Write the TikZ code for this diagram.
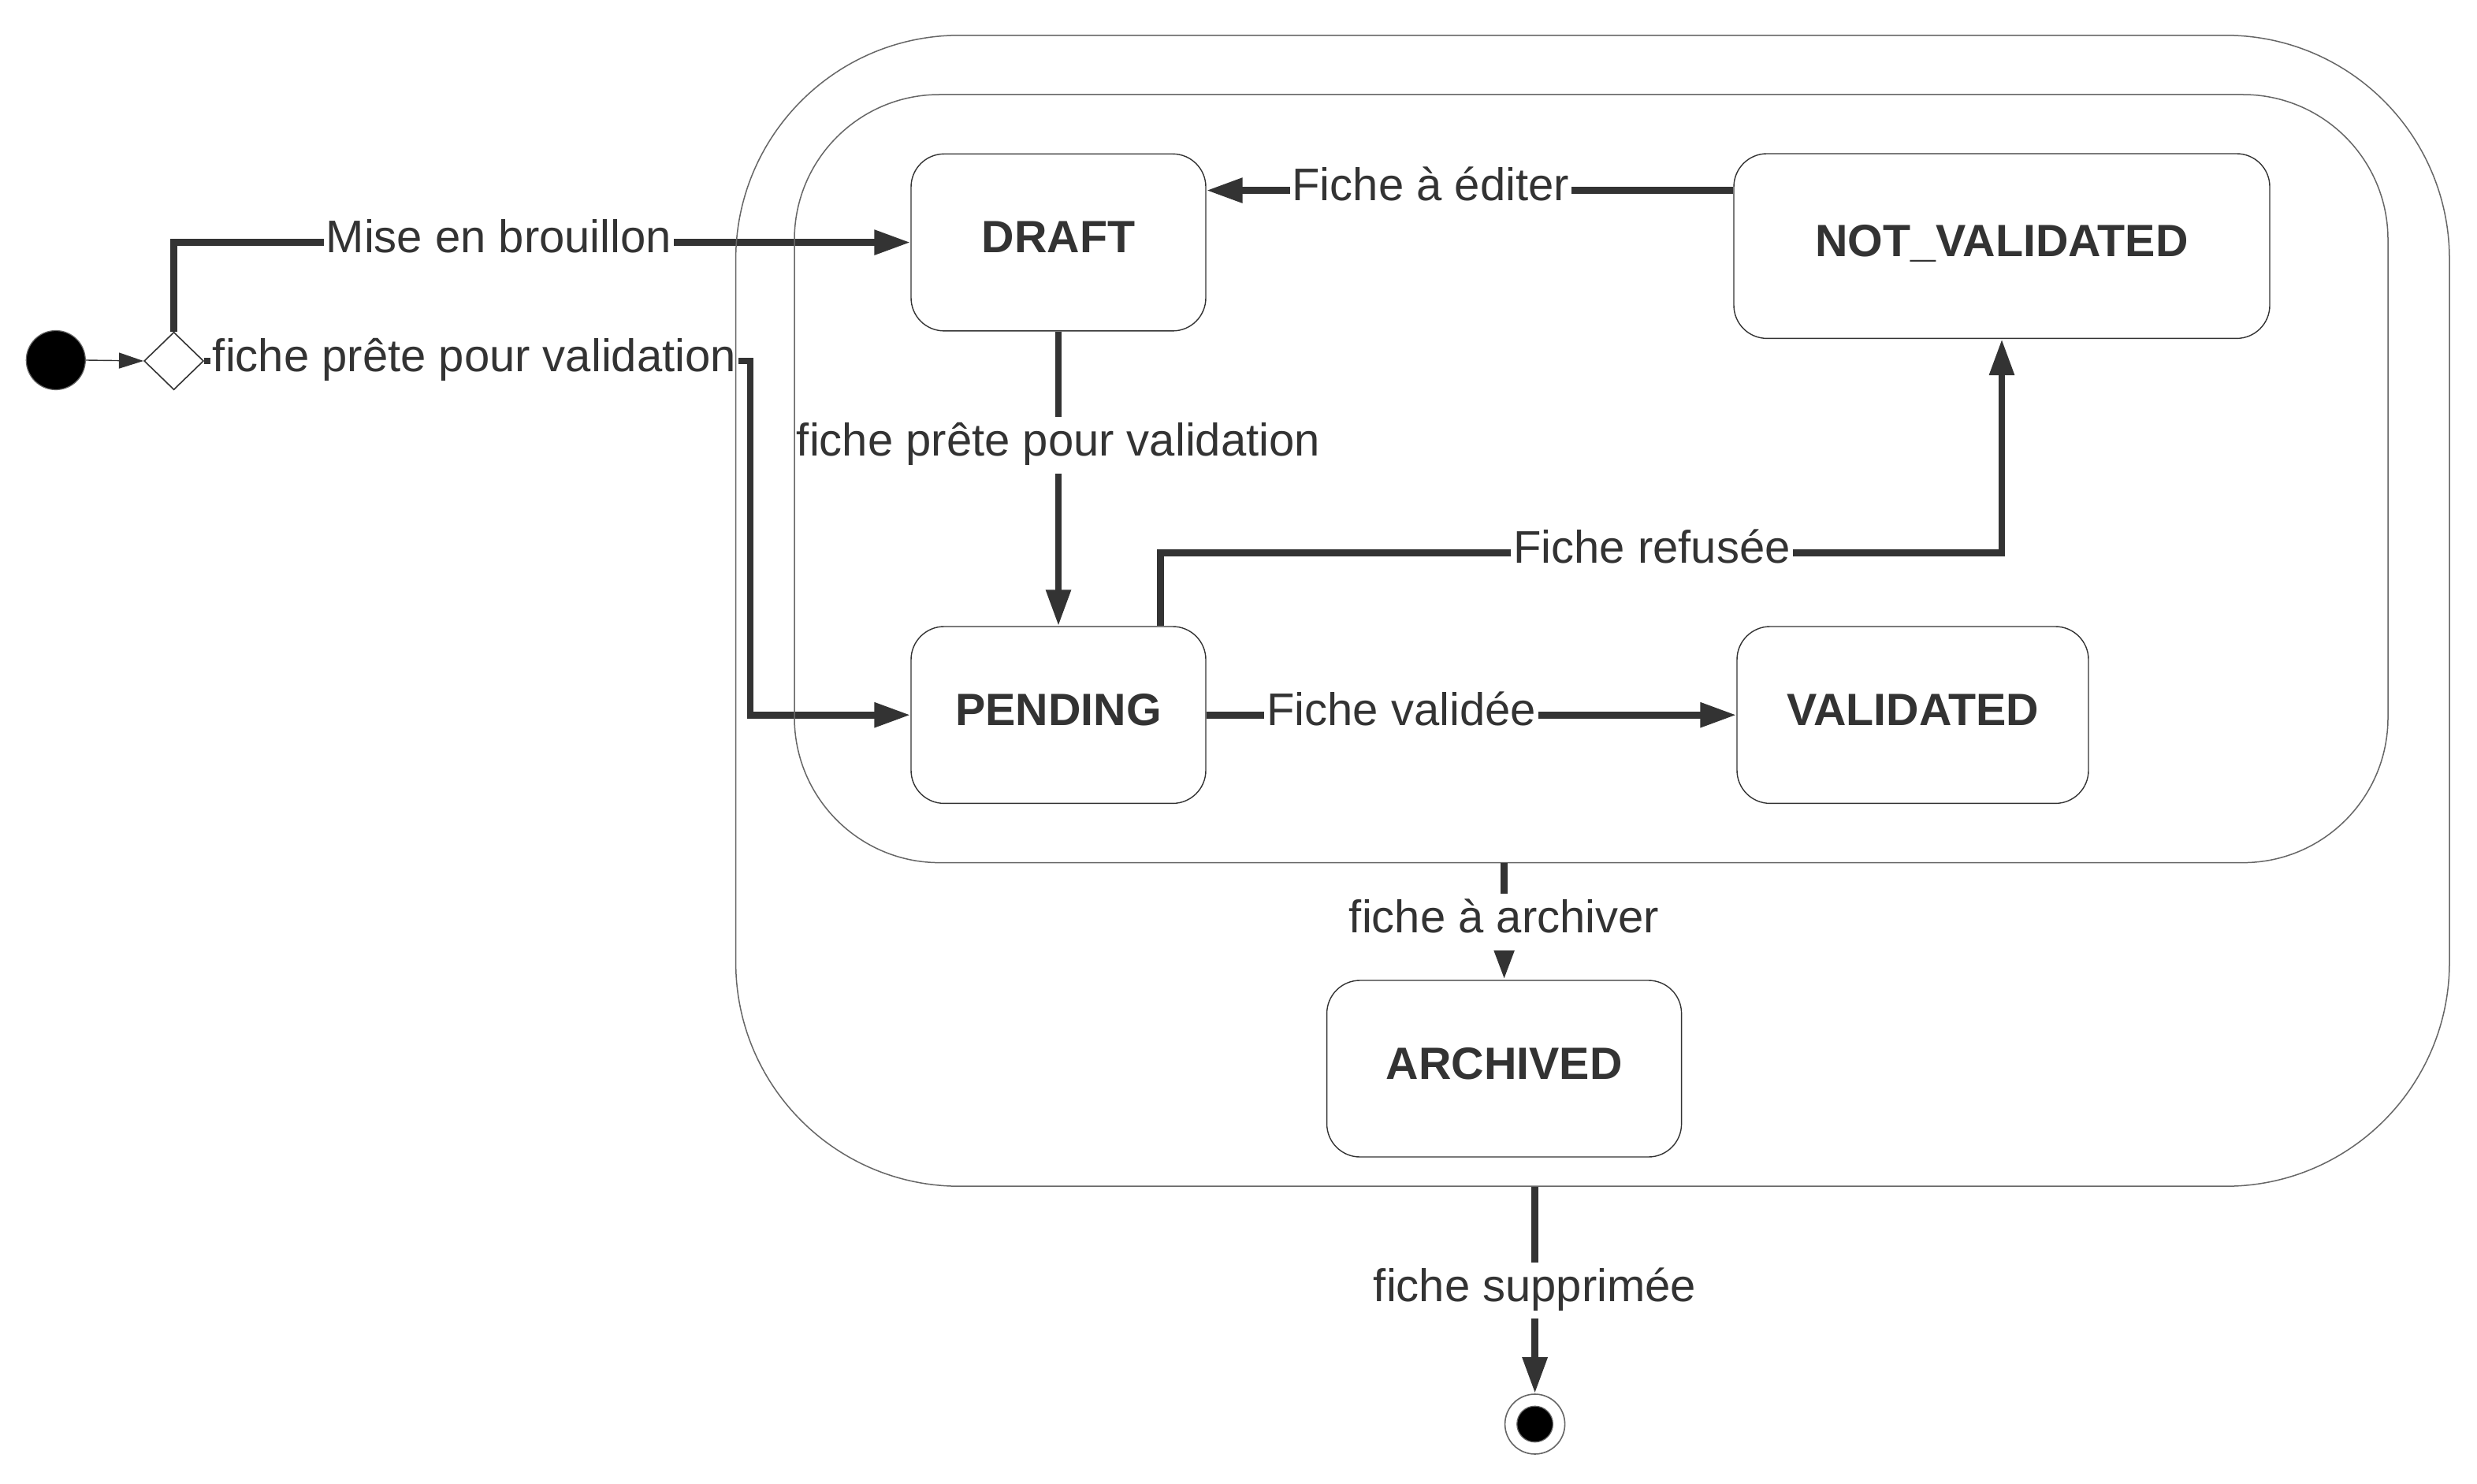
\documentclass[tikz,border=0pt]{standalone}
\usepackage{fontspec}
\setmainfont{Liberation Sans}
\usetikzlibrary{arrows.meta,shapes.geometric}
\definecolor{ink}{HTML}{333333}
\definecolor{frame}{HTML}{666666}
\begin{document}
\begin{tikzpicture}[x=1pt,y=-1pt,
  stbox/.style={draw=ink,line width=0.7pt,rounded corners=21pt,fill=white,text=ink,inner sep=0pt,
    font=\fontsize{28.7}{34}\selectfont\bfseries,text height=20.5pt,text depth=7.3pt},
  contbox/.style={draw=frame,line width=0.75pt,inner sep=0pt},
  conn/.style={draw=ink,line width=4.4pt,-{Triangle[length=23pt,width=15pt]}},
  lbl/.style={fill=white,text=ink,inner xsep=1.5pt,inner ysep=3.8pt,
    font=\fontsize{29}{34}\selectfont,text height=20.8pt,text depth=7.4pt},
]
\fill[white] (0,0) rectangle (1571.5,941.5);
\useasboundingbox (0,0) rectangle (1571.5,941.5);

% states
\node[stbox,minimum width=187pt,minimum height=112.3pt] (DRAFT) at (671.5,153.8) {DRAFT};
\node[stbox,minimum width=187pt,minimum height=112.2pt] (PENDING) at (671.5,453.6) {PENDING};
\node[stbox,minimum width=340pt,minimum height=117.2pt] (NOT) at (1270,156.1) {NOT\_VALIDATED};
\node[stbox,minimum width=223pt,minimum height=112.2pt] (VALIDATED) at (1213.5,453.6) {VALIDATED};
\node[stbox,minimum width=225pt,minimum height=112pt] (ARCHIVED) at (954.3,678) {ARCHIVED};

% pseudo states
\node[circle,fill=black,draw=frame,line width=0.6pt,minimum size=37.5pt,inner sep=0pt] (init) at (35.4,228.5) {};
\node[diamond,draw=ink,line width=0.8pt,fill=white,minimum width=37.8pt,minimum height=36.6pt,inner sep=0pt] (dia) at (110.3,229) {};
\node[circle,draw=frame,line width=0.8pt,fill=white,minimum size=38pt,inner sep=0pt] (final) at (973.8,903.5) {};
\node[circle,fill=black,draw=frame,line width=0.6pt,minimum size=22.8pt,inner sep=0pt] (finalin) at (final.center) {};

% connectors
\draw[draw=ink,line width=0.7pt,-{Triangle[length=15.5pt,width=10pt]}] (init.east) -- (dia.west);

\draw[conn] (dia.north) |- (DRAFT.west);
\node[lbl] (l1) at (316.5,153.8) {Mise en brouillon};

\coordinate (vp) at (476,229);
\draw[conn] (dia.east) -- (dia.east -| vp) |- (PENDING.west);
\node[lbl] (l2) at (301,229) {fiche prête pour validation};

\coordinate (ed) at (0,120.8);
\draw[conn] (NOT.west |- ed) -- (DRAFT.east |- ed);
\node[lbl] (l3) at (907.6,120.8) {Fiche à éditer};

\draw[conn] (DRAFT.south) -- (PENDING.north);
\node[lbl] (l4) at (671.5,282.6) {fiche prête pour validation};

\coordinate (rf) at (736.4,350.6);
\draw[conn] (PENDING.north -| rf) |- (NOT.south |- rf) -- (NOT.south);
\node[lbl] (l5) at (1048,350.6) {Fiche refusée};

\draw[conn] (PENDING.east) -- (VALIDATED.west);
\node[lbl] (l6) at (889,453.6) {Fiche validée};

% composite state frames
\node[contbox,minimum width=1087.2pt,minimum height=730.2pt,rounded corners=142pt] (outer) at (1010.4,387.5) {};
\node[contbox,minimum width=1011pt,minimum height=487.3pt,rounded corners=92pt] (inner) at (1009.5,303.65) {};

\draw[draw=ink,line width=4.4pt,-{Triangle[length=19pt,width=12pt]}] (ARCHIVED.north |- inner.south) -- (ARCHIVED.north);
\node[lbl] (l7) at (954.3,585) {fiche à archiver};

\draw[conn] (final.north |- outer.south) -- (final.north);
\node[lbl] (l8) at (973.8,818.8) {fiche supprimée};
\end{tikzpicture}
\end{document}
